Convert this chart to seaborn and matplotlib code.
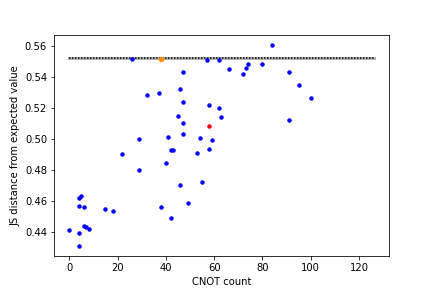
import matplotlib
matplotlib.use("Agg")
import matplotlib.pyplot as plt
import seaborn as sns
import pandas as pd

# CNOT count vs JS distance (blue points)
cnot = [0, 4, 5, 4, 6, 4, 6, 7, 8, 4, 15, 18, 22, 29, 29, 26, 32, 37, 38,
        42, 41, 40, 42, 43, 45, 46, 46, 84, 57, 62, 47, 47, 47, 47, 49, 55,
        53, 54, 58, 59, 58, 62, 63, 66, 72, 73, 74, 80, 91, 91, 95, 100]
js = [0.4410, 0.4617, 0.4628, 0.4564, 0.4557, 0.4390, 0.4436, 0.4430, 0.4417,
      0.4306, 0.4544, 0.4535, 0.4905, 0.5003, 0.4801, 0.5519, 0.5283, 0.5301,
      0.4557, 0.4491, 0.5011, 0.4846, 0.4931, 0.4931, 0.5149, 0.5327, 0.4700,
      0.5611, 0.5512, 0.5512, 0.5433, 0.5242, 0.5103, 0.5030, 0.4588, 0.4720,
      0.4912, 0.5004, 0.5222, 0.4991, 0.4938, 0.5202, 0.5143, 0.5452, 0.5420,
      0.5459, 0.5486, 0.5486, 0.5433, 0.5123, 0.5347, 0.5268]

# highlighted points
best_x, best_y = [38], [0.5519]
sel_x, sel_y = [58], [0.5083]

# reference level
ref_x = [0, 126]
ref_y = [0.5525, 0.5525]

df = pd.DataFrame({"cnot": cnot, "js": js})

fig, ax = plt.subplots(figsize=(6, 4), dpi=72)

ax.plot(ref_x, ref_y, color="gray", lw=3, alpha=0.6, zorder=1)
ax.plot(ref_x, ref_y, color="black", lw=1.5, ls=(0, (1, 1)), zorder=2)

sns.scatterplot(data=df, x="cnot", y="js", color="blue", s=20,
                linewidth=0, ax=ax, zorder=3)
sns.scatterplot(x=sel_x, y=sel_y, color="red", s=20, linewidth=0, ax=ax, zorder=4)
sns.scatterplot(x=best_x, y=best_y, color="darkorange", s=30, linewidth=0,
                ax=ax, zorder=4)

ax.set_xlabel("CNOT count")
ax.set_ylabel("JS distance from expected value")
ax.set_xticks([0, 20, 40, 60, 80, 100, 120])

plt.savefig("out.png", dpi=72)
